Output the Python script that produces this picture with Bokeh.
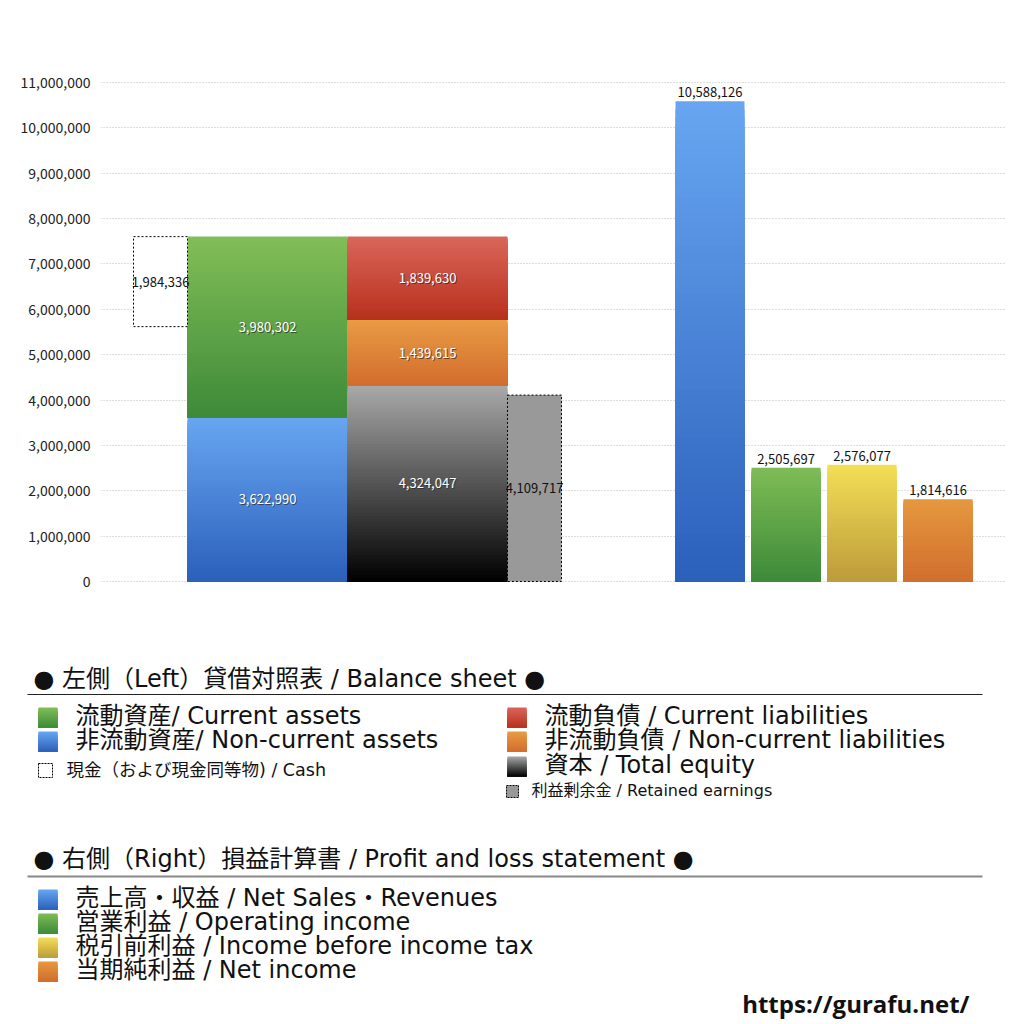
from bokeh.plotting import figure
from bokeh.models import ColumnDataSource, Range1d, FixedTicker, NumeralTickFormatter
from bokeh.core.properties import value
from bokeh.embed import file_html
from bokeh.resources import INLINE

FONT = "Noto Sans CJK JP"
MIX = "DejaVu Sans, Noto Sans CJK JP"

# balance sheet (left side)
asset_names = ["非流動資産", "流動資産"]
asset_values = [3622990, 3980302]
liab_names = ["資本", "非流動負債", "流動負債"]
liab_values = [4324047, 1439615, 1839630]
cash_value = 1984336
retained_value = 4109717

# profit and loss (right side)
pl_names = ["売上高・収益", "営業利益", "税引前利益", "当期純利益"]
pl_english = ["Net Sales・Revenues", "Operating income", "Income before income tax", "Net income"]
pl_values = [10588126, 2505697, 2576077, 1814616]

y_ticks = list(range(0, 11000001, 1000000))

# gradient colours (top, bottom)
ASSET_COLORS = [("#68a6f1", "#2b60bb"), ("#82be57", "#3d8a39")]
LIAB_COLORS = [("#a9a9a9", "#000000"), ("#e99b45", "#d26d2d"), ("#da665b", "#b8301d")]
PL_COLORS = [("#68a6f1", "#2b60bb"), ("#7fbc56", "#3d8a39"),
             ("#f3df56", "#bd9b3b"), ("#e5983f", "#d16e2e")]

# layout of the bars (frame pixels, x)
BS_X0 = 33
NARROW = 54
WIDE = 160
PL_X0 = 575
PL_W = 69
PL_GAP = 7


def hex2rgb(h):
    return tuple(int(h[i:i + 2], 16) for i in (1, 3, 5))


def grad(store, x0, x1, y_top, y_bot, c_top, c_bot, n=60):
    """stack quads (each reaching the bottom) to fake a vertical gradient"""
    ct, cb = hex2rgb(c_top), hex2rgb(c_bot)
    step = (y_bot - y_top) / n
    for i in range(n):
        f = (i + 0.5) / n
        c = tuple(round(ct[k] + (cb[k] - ct[k]) * f) for k in range(3))
        store["left"].append(x0)
        store["right"].append(x1)
        store["top"].append(y_top + step * i)
        store["bottom"].append(y_bot)
        store["color"].append("#%02x%02x%02x" % c)


def new_store():
    return {"left": [], "right": [], "top": [], "bottom": [], "color": []}


# ---------------- chart ----------------
p = figure(
    width=1024,
    height=638,
    x_range=Range1d(0, 905),
    y_range=Range1d(-419000, 11927000),
    x_axis_type=None,
    output_backend="svg",
    toolbar_location=None,
    min_border_left=100,
    min_border_right=19,
    min_border_top=40,
    min_border_bottom=38,
)
p.outline_line_color = None
p.yaxis.ticker = FixedTicker(ticks=y_ticks)
p.yaxis.formatter = NumeralTickFormatter(format="0,0")
p.yaxis.axis_line_color = None
p.yaxis.major_tick_line_color = None
p.yaxis.minor_tick_line_color = None
p.yaxis.major_tick_out = 0
p.yaxis.major_label_standoff = 10
p.yaxis.major_label_text_font = FONT
p.yaxis.major_label_text_font_size = "14px"
p.yaxis.major_label_text_color = "#222222"
p.ygrid.grid_line_color = "#bdbdbd"
p.ygrid.grid_line_dash = "1 2"
p.ygrid.grid_line_width = 1
p.ygrid.level = "image"

bars = new_store()
white_lbl = {"x": [], "y": [], "text": []}

# assets column
ax0 = BS_X0 + NARROW
base = 0
for v, (ct, cb) in zip(asset_values, ASSET_COLORS):
    grad(bars, ax0, ax0 + WIDE, base + v, base, ct, cb)
    white_lbl["x"].append(ax0 + WIDE / 2)
    white_lbl["y"].append(base + v / 2)
    white_lbl["text"].append(f"{v:,}")
    base += v
total_assets = base

# liabilities + equity column
lx0 = ax0 + WIDE
base = 0
for v, (ct, cb) in zip(liab_values, LIAB_COLORS):
    grad(bars, lx0, lx0 + WIDE, base + v, base, ct, cb)
    white_lbl["x"].append(lx0 + WIDE / 2)
    white_lbl["y"].append(base + v / 2)
    white_lbl["text"].append(f"{v:,}")
    base += v

# P&L bars
pl_lbl = {"x": [], "y": [], "text": []}
for i, (v, (ct, cb)) in enumerate(zip(pl_values, PL_COLORS)):
    x0 = PL_X0 + i * (PL_W + PL_GAP)
    grad(bars, x0, x0 + PL_W, v, 0, ct, cb)
    pl_lbl["x"].append(x0 + PL_W / 2)
    pl_lbl["y"].append(v)
    pl_lbl["text"].append(f"{v:,}")

p.quad(left="left", right="right", top="top", bottom="bottom", source=ColumnDataSource(bars),
       fill_color="color", line_color=None)

# cash box (dashed, empty)
p.quad(left=[BS_X0], right=[BS_X0 + NARROW], top=[total_assets], bottom=[total_assets - cash_value],
       fill_color="white", line_color="black", line_dash="2 2", line_width=1)
# retained earnings box
rx0 = lx0 + WIDE
p.quad(left=[rx0], right=[rx0 + NARROW], top=[retained_value], bottom=[0],
       fill_color="#999999", line_color="black", line_dash="2 2", line_width=1)

black_lbl = {
    "x": [BS_X0 + NARROW / 2, rx0 + NARROW / 2],
    "y": [total_assets - cash_value / 2, retained_value / 2],
    "text": [f"{cash_value:,}", f"{retained_value:,}"],
}

common = dict(text_font=value(FONT), text_font_size="13px", text_align="center", text_baseline="middle")
p.text(x="x", y="y", text="text", source=ColumnDataSource(white_lbl), text_color="#2a2a2a",
       text_alpha=0.7, x_offset=1, y_offset=1, **common)
p.text(x="x", y="y", text="text", source=ColumnDataSource(white_lbl), text_color="white", **common)
p.text(x="x", y="y", text="text", source=ColumnDataSource(black_lbl), text_color="#111111", **common)
p.text(x="x", y="y", text="text", source=ColumnDataSource(pl_lbl), text_color="#111111",
       y_offset=-9, **common)

# ---------------- legend panel (page coordinates) ----------------
lg = figure(
    width=1024,
    height=386,
    x_range=Range1d(0, 1024),
    y_range=Range1d(1024, 638),
    x_axis_type=None,
    y_axis_type=None,
    output_backend="svg",
    toolbar_location=None,
    min_border=0,
)
lg.outline_line_color = None
lg.xgrid.visible = False
lg.ygrid.visible = False

big = dict(text_font=value(MIX), text_font_size="24px", text_baseline="middle", text_color="#111111")

lg.text(x=[33], y=[678], text=["● 左側（Left）貸借対照表 / Balance sheet ●"], **big)
lg.segment(x0=[27], y0=[694], x1=[982], y1=[694], line_color="#222222", line_width=1.2)
lg.text(x=[33], y=[858], text=["● 右側（Right）損益計算書 / Profit and loss statement ●"], **big)
lg.segment(x0=[27], y0=[876], x1=[982], y1=[876], line_color="#888888", line_width=2)

sq = new_store()
leg_items = [
    (38, 717, ASSET_COLORS[1], "流動資産/ Current assets"),
    (38, 741, ASSET_COLORS[0], "非流動資産/ Non-current assets"),
    (507, 717, LIAB_COLORS[2], "流動負債 /  Current liabilities"),
    (507, 741, LIAB_COLORS[1], "非流動負債 / Non-current liabilities"),
    (507, 766, LIAB_COLORS[0], "資本 / Total equity"),
]
for name, eng, cols, y in zip(pl_names, pl_english, PL_COLORS, [899, 923, 947, 971]):
    leg_items.append((38, y, cols, f"{name} / {eng}"))

for x, y, (ct, cb), label in leg_items:
    grad(sq, x, x + 19, y - 10, y + 10, ct, cb, n=20)
    lg.text(x=[x + 37], y=[y - 2], text=[label], **big)
lg.quad(left="left", right="right", top="top", bottom="bottom", source=ColumnDataSource(sq),
        fill_color="color", line_color=None)

lg.quad(left=[38], right=[52], top=[763], bottom=[777], fill_color="white",
        line_color="black", line_dash="2 1", line_width=1)
lg.text(x=[66], y=[769], text=["現金（および現金同等物) / Cash"], text_font=value(MIX),
        text_font_size="17.5px", text_baseline="middle", text_color="#111111")
lg.quad(left=[506], right=[518], top=[785], bottom=[797], fill_color="#999999",
        line_color="black", line_dash="2 1", line_width=1)
lg.text(x=[531], y=[790], text=["利益剰余金 / Retained earnings"], text_font=value(MIX),
        text_font_size="16px", text_baseline="middle", text_color="#111111")

lg.text(x=[969], y=[1003], text=["https://gurafu.net/"], text_font=value("Open Sans"),
        text_font_style="bold", text_font_size="24px", text_align="right",
        text_baseline="middle", text_color="#111111")

open("out.html", "w").write(file_html([p, lg], INLINE))
